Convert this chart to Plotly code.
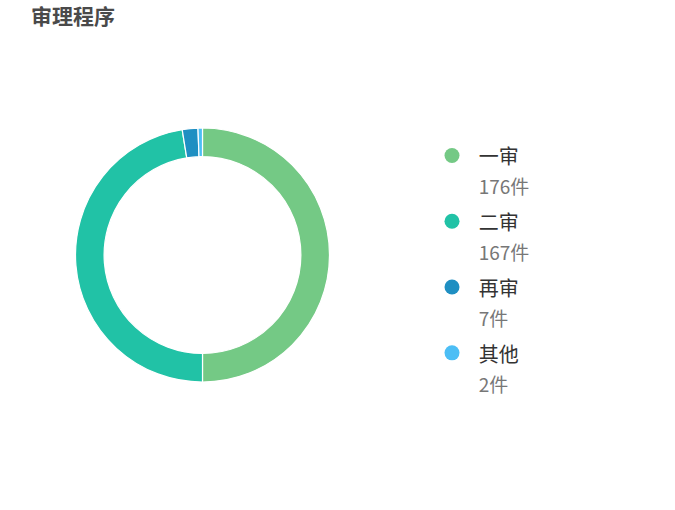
import plotly.graph_objects as go

categories = ["一审", "二审", "再审", "其他"]
counts = [176, 167, 7, 2]
colors = ["#74C985", "#21C2A6", "#1F8FC2", "#4CBEF5"]
unit = "件"
title_text = "审理程序"

W, H = 675, 510
FONT = "Noto Sans CJK SC, Microsoft YaHei, sans-serif"

fig = go.Figure()

# donut
cx, cy, r = 202.5, 255, 127
fig.add_trace(go.Pie(
    labels=categories,
    values=counts,
    sort=False,
    direction="clockwise",
    rotation=0,
    hole=0.775,
    marker=dict(colors=colors, line=dict(color="#ffffff", width=1.2)),
    textinfo="none",
    hovertemplate="%{label}: %{value}" + unit + "<extra></extra>",
    showlegend=False,
    domain=dict(x=[(cx - r) / W, (cx + r) / W], y=[(H - cy - r) / H, (H - cy + r) / H]),
))

# legend entries (circle markers) built from the same data
for name, val, col in zip(categories, counts, colors):
    fig.add_trace(go.Scatter(
        x=[None], y=[None], mode="markers",
        marker=dict(color=col, size=15, symbol="circle"),
        name=(f"<span style='font-size:30px'>&nbsp;</span><span style='font-size:20px;color:#333333'>{name}</span><br>"
              f"<span style='font-size:30px'>&nbsp;</span><span style='font-size:19px;color:#777777'>{val}{unit}</span>"),
        legendgroup=name,
        hoverinfo="skip",
    ))

fig.update_layout(
    width=W, height=H,
    margin=dict(l=0, r=0, t=0, b=0),
    paper_bgcolor="#ffffff",
    plot_bgcolor="#ffffff",
    font=dict(family=FONT, color="#333333"),
    title=dict(
        text=f"<b>{title_text}</b>",
        x=31 / W, xanchor="left", xref="container",
        y=1 - 17 / H, yanchor="middle", yref="container",
        font=dict(size=21, color="#4a4a4a", family=FONT),
    ),
    xaxis=dict(visible=False),
    yaxis=dict(visible=False),
    legend=dict(
        x=432 / W, xanchor="left",
        y=1 - 134 / H, yanchor="top",
        font=dict(size=23, family=FONT),
        valign="top",
        itemsizing="trace",
        tracegroupgap=3,
        bgcolor="rgba(0,0,0,0)",
    ),
)

fig.write_html("out.html", config={"displayModeBar": False},
               post_script="document.body.style.margin='0';")
